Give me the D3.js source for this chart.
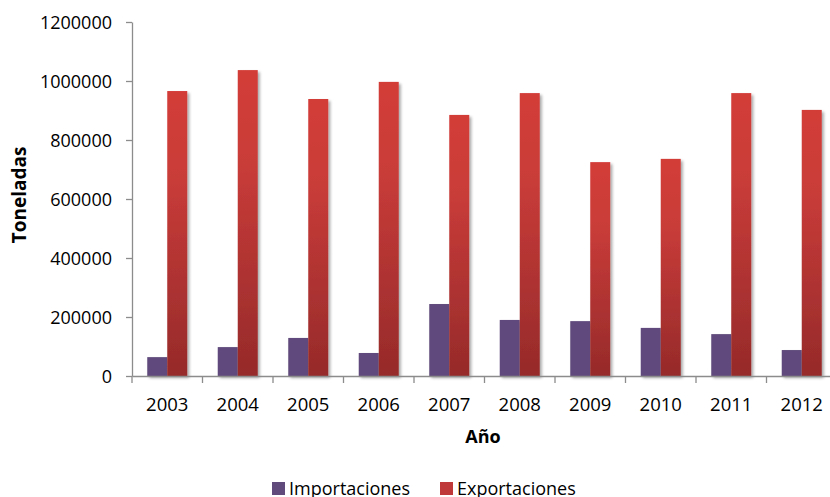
<!DOCTYPE html>
<html>
<head>
<meta charset="utf-8">
<script src="https://cdn.jsdelivr.net/npm/d3@7"></script>
<style>
  html, body { margin: 0; padding: 0; background: #fff; }
  svg { display: block; }
  text { font-family: "Open Sans", "Noto Sans", sans-serif; fill: #000; }
</style>
</head>
<body>
<svg id="chart" width="830" height="497"></svg>
<script>
// Toneladas por año
const years = ["2003", "2004", "2005", "2006", "2007", "2008", "2009", "2010", "2011", "2012"];
const importaciones = [64000, 98000, 129000, 78000, 244000, 190000, 186000, 163000, 142000, 88000];
const exportaciones = [966000, 1037000, 939000, 997000, 885000, 959000, 725000, 736000, 959000, 902000];
const seriesNames = ["Importaciones", "Exportaciones"];
const yTicks = [0, 200000, 400000, 600000, 800000, 1000000, 1200000];

const svg = d3.select("#chart");
const margin = { left: 132, top: 22, bottom: 121 };
const plotH = 497 - margin.top - margin.bottom;   // 354
const bandW = 70.5;

const x = d3.scaleBand()
  .domain(years)
  .range([margin.left, margin.left + bandW * years.length])
  .paddingInner(0).paddingOuter(0);

// two adjacent bars, centred in each year band
const sub = d3.scaleBand()
  .domain(seriesNames)
  .range([0, x.bandwidth()])
  .paddingInner(0)
  .paddingOuter(0.7625);

const y = d3.scaleLinear()
  .domain([0, 1200000])
  .range([margin.top + plotH, margin.top]);

const defs = svg.append("defs");
const grad = defs.append("linearGradient")
  .attr("id", "expGrad").attr("x1", 0).attr("y1", 0).attr("x2", 0).attr("y2", 1);
grad.append("stop").attr("offset", "0%").attr("stop-color", "#d33c38");
grad.append("stop").attr("offset", "30%").attr("stop-color", "#c93c39");
grad.append("stop").attr("offset", "100%").attr("stop-color", "#962a2a");

const shadow = defs.append("filter").attr("id", "barShadow")
  .attr("x", "-30%").attr("y", "-5%").attr("width", "160%").attr("height", "115%");
shadow.append("feGaussianBlur").attr("in", "SourceAlpha").attr("stdDeviation", 1.6).attr("result", "b");
shadow.append("feOffset").attr("in", "b").attr("dx", 2).attr("dy", 2).attr("result", "o");
shadow.append("feComponentTransfer").attr("in", "o").attr("result", "s")
  .append("feFuncA").attr("type", "linear").attr("slope", 0.35);
const merge = shadow.append("feMerge");
merge.append("feMergeNode").attr("in", "s");
merge.append("feMergeNode").attr("in", "SourceGraphic");

const fills = { Importaciones: "#604a7b", Exportaciones: "url(#expGrad)" };
const values = { Importaciones: importaciones, Exportaciones: exportaciones };

// Bars
const groups = svg.append("g").selectAll("g")
  .data(years)
  .join("g")
  .attr("transform", d => `translate(${x(d)},0)`)
  .attr("filter", "url(#barShadow)");

groups.selectAll("rect")
  .data((d, i) => seriesNames.map(s => ({ s, v: values[s][i] })))
  .join("rect")
  .attr("x", d => sub(d.s))
  .attr("width", sub.bandwidth())
  .attr("y", d => y(d.v))
  .attr("height", d => y(0) - y(d.v))
  .attr("fill", d => fills[d.s]);

// Y axis
const yAxis = d3.axisLeft(y).tickValues(yTicks).tickSize(6).tickSizeOuter(0).tickFormat(d3.format("d"));
const gy = svg.append("g").attr("transform", `translate(${margin.left},0)`).call(yAxis);
gy.select(".domain").attr("stroke", "#8c8c8c").attr("stroke-width", 1.3);
gy.selectAll(".tick line").attr("stroke", "#8c8c8c").attr("stroke-width", 1.3);
gy.selectAll(".tick text").attr("font-size", 18).attr("x", -20).attr("dy", "0.35em")
  .style("font-family", "'Open Sans', sans-serif").attr("fill", "#000");

// X axis
const xAxis = d3.axisBottom(x).tickSize(0).tickSizeOuter(0);
const gx = svg.append("g").attr("transform", `translate(0,${y(0)})`).call(xAxis);
gx.select(".domain").attr("stroke", "#8c8c8c").attr("stroke-width", 1.6);
gx.selectAll(".tick text").attr("font-size", 18.5).attr("y", 35).attr("dy", "0")
  .style("font-family", "'Open Sans', sans-serif").attr("fill", "#000");
gx.selectAll(".sep")
  .data(years)
  .join("line")
  .attr("class", "sep")
  .attr("x1", d => x(d)).attr("x2", d => x(d))
  .attr("y1", 0).attr("y2", 7)
  .attr("stroke", "#8c8c8c").attr("stroke-width", 1.3);

// Axis titles
svg.append("text")
  .attr("transform", `translate(26,${y(600000) - 4}) rotate(-90)`)
  .attr("text-anchor", "middle")
  .attr("font-size", 19).attr("font-weight", "bold")
  .text("Toneladas");

svg.append("text")
  .attr("x", 483).attr("y", 443)
  .attr("text-anchor", "middle")
  .attr("font-size", 18).attr("font-weight", "bold")
  .text("Año");

// Legend
const legend = svg.append("g");
const legendItems = [
  { s: "Importaciones", x: 272, color: "#604a7b" },
  { s: "Exportaciones", x: 440, color: "#c0393a" }
];
const li = legend.selectAll("g").data(legendItems).join("g")
  .attr("transform", d => `translate(${d.x},0)`);
li.append("rect").attr("x", 0).attr("y", 482).attr("width", 13).attr("height", 13)
  .attr("fill", d => d.color);
li.append("text").attr("x", 17).attr("y", 495).attr("font-size", 18)
  .text(d => d.s);
</script>
</body>
</html>
